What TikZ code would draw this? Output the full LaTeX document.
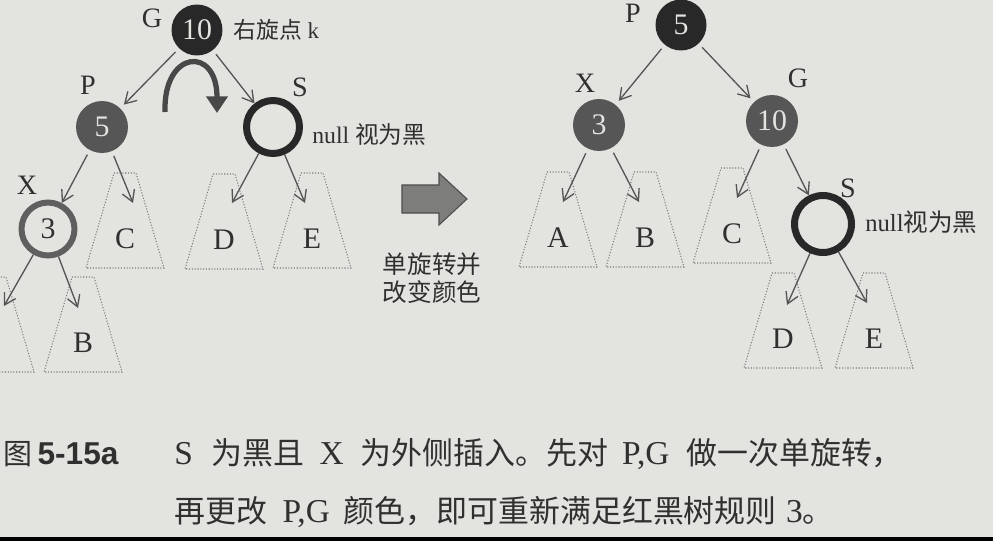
\documentclass[tikz,border=0pt]{standalone}
\usepackage{fontspec}
\setmainfont{Liberation Serif}
\setsansfont{Liberation Sans}
\newfontfamily\cjk{Noto Sans CJK SC}
\usepackage{tikz}
\usetikzlibrary{arrows.meta}
\definecolor{paper}{RGB}{227,227,224}
\definecolor{ink}{RGB}{48,48,48}
\definecolor{nodeblack}{RGB}{40,40,40}
\definecolor{nodegray}{RGB}{86,86,86}
\definecolor{ringgray}{RGB}{95,95,95}
\definecolor{edgegray}{RGB}{85,85,85}
\definecolor{treegray}{RGB}{120,120,120}
\newcommand{\fs}[1]{\fontsize{#1}{#1}\selectfont}
% sub tree: name, centre x, top y, letter
\newcommand{\subtree}[4]{%
  \draw[sub tree] (#2-11,#3) -- (#2+11,#3) -- (#2+39,#3+95) -- (#2-39,#3+95) -- cycle;
  \node[leaf] (#1) at (#2,#3+66) {#4};
}

\begin{document}
\begin{tikzpicture}[->,>={Straight Barb[length=2.2mm,width=2.6mm]},x=0.02cm,y=-0.02cm,
  black node/.style={circle,fill=nodeblack,text=paper,minimum size=1.02cm,inner sep=0pt,outer sep=3pt,font=\fs{17}},
  gray node/.style={circle,fill=nodegray,text=paper,minimum size=1.04cm,inner sep=0pt,outer sep=3pt,font=\fs{17}},
  ring node/.style={circle,draw=nodeblack,fill=paper,line width=0.14cm,minimum size=1.06cm,inner sep=0pt},
  gray ring/.style={circle,draw=ringgray,fill=paper,text=ink,line width=0.12cm,minimum size=1.06cm,inner sep=0pt,font=\fs{17}},
  tag/.style={text=ink,font=\fs{16}},
  leaf/.style={text=ink,font=\fs{17}},
  note/.style={text=ink,anchor=west,inner sep=0pt},
  sub tree/.style={-,draw=treegray,line width=0.6pt,densely dotted},
  link/.style={draw=edgegray,line width=0.75pt},
  turn/.style={-{Triangle[length=9.5pt,width=12pt]},draw=nodeblack!85!white,line width=3pt}]

  \fill[-,paper] (0,0) rectangle (993,541);
  \useasboundingbox (0,0) rectangle (993,541);
  \fill[-,black] (0,537) rectangle (993,541);

  % before the rotation
  \node[black node] (1) at (197,30) {10};
  \node[gray node] (2) at (102,127) {5};
  \node[ring node] (3) at (273,127) {};
  \node[gray ring] (4) at (48,229) {3};

  \node[tag] at (152,18) {G};
  \node[tag] at (88,85) {P};
  \node[tag] at (300,87) {S};
  \node[tag] at (27,185) {X};
  \node[note,font=\fs{13}] at (233,30) {{\cjk 右旋点} k};
  \node[note,font=\fs{13.5}] at (312,135) {null {\cjk 视为黑}};

  \subtree{A1}{-5}{277}{}
  \subtree{B1}{83}{277}{B}
  \subtree{C1}{125}{173}{C}
  \subtree{D1}{224}{174}{D}
  \subtree{E1}{312}{173}{E}

  \coordinate (a1) at (4,306);
  \coordinate (b1) at (78,308);
  \coordinate (c1) at (133,203);
  \coordinate (d1) at (232,203);
  \coordinate (e1) at (305,203);

  \path[link] (1) edge (2) (1) edge (3)
    (2) edge (4) (2) edge (c1)
    (3) edge (d1) (3) edge (e1)
    (4) edge (a1) (4) edge (b1);

  \draw[turn] (165,112) .. controls (163,50) and (217,45) .. (217,113);

  % the change
  \filldraw[-,fill=black!45!paper,draw=black!70,line width=0.6pt]
    (402,185) -- (439,185) -- (439,173) -- (467,199) -- (439,225) -- (439,213) -- (402,213) -- cycle;
  \node[text=ink,align=center,font=\fs{14}\cjk,inner sep=0pt] at (432,278) {单旋转并\\[2pt]改变颜色};

  % after the rotation
  \node[black node] (5) at (681,25) {5};
  \node[gray node] (6) at (599,125) {3};
  \node[gray node] (7) at (772,121) {10};
  \node[ring node,minimum size=1.14cm] (8) at (823,224) {};

  \node[tag] at (633,13) {P};
  \node[tag] at (585,83) {X};
  \node[tag] at (798,78) {G};
  \node[tag] at (848,188) {S};
  \node[note,font=\fs{14}] at (865,222) {null{\cjk 视为黑}};

  \subtree{A2}{558}{172}{A}
  \subtree{B2}{645}{172}{B}
  \subtree{C2}{732}{168}{C}
  \subtree{D2}{783}{273}{D}
  \subtree{E2}{874}{273}{E}

  \coordinate (a2) at (563,202);
  \coordinate (b2) at (639,202);
  \coordinate (c2) at (737,198);
  \coordinate (d2) at (787,305);
  \coordinate (e2) at (867,303);

  \path[link] (5) edge (6) (5) edge (7)
    (6) edge (a2) (6) edge (b2)
    (7) edge (c2) (7) edge (8)
    (8) edge (d2) (8) edge (e2);

  % caption
  \node[text=ink,anchor=base west,inner sep=0pt] (fig) at (3,464)
    {{\fs{16.5}\cjk 图}\hspace{.3em}{\fs{18}\sffamily\bfseries 5-15a}};
  \node[text=ink,anchor=base west,inner sep=0pt,font=\fs{17.6}] (cap1) at (174,464)
    {{\fs{19}S}\hspace{.6em}{\cjk 为黑且}\hspace{.5em}{\fs{19}X}\hspace{.55em}{\cjk 为外侧插入。先对}\hspace{.45em}{\fs{19}P,G}\hspace{.55em}{\cjk 做一次单旋转，}};
  \node[text=ink,anchor=base west,inner sep=0pt,font=\fs{17.6}] (cap2) at (174,522)
    {{\cjk 再更改}\hspace{.5em}{\fs{19}P,G}\hspace{.45em}{\cjk 颜色，即可重新满足红黑树规则}\hspace{.3em}{\fs{19}3}{\cjk 。}};
\end{tikzpicture}
\end{document}
